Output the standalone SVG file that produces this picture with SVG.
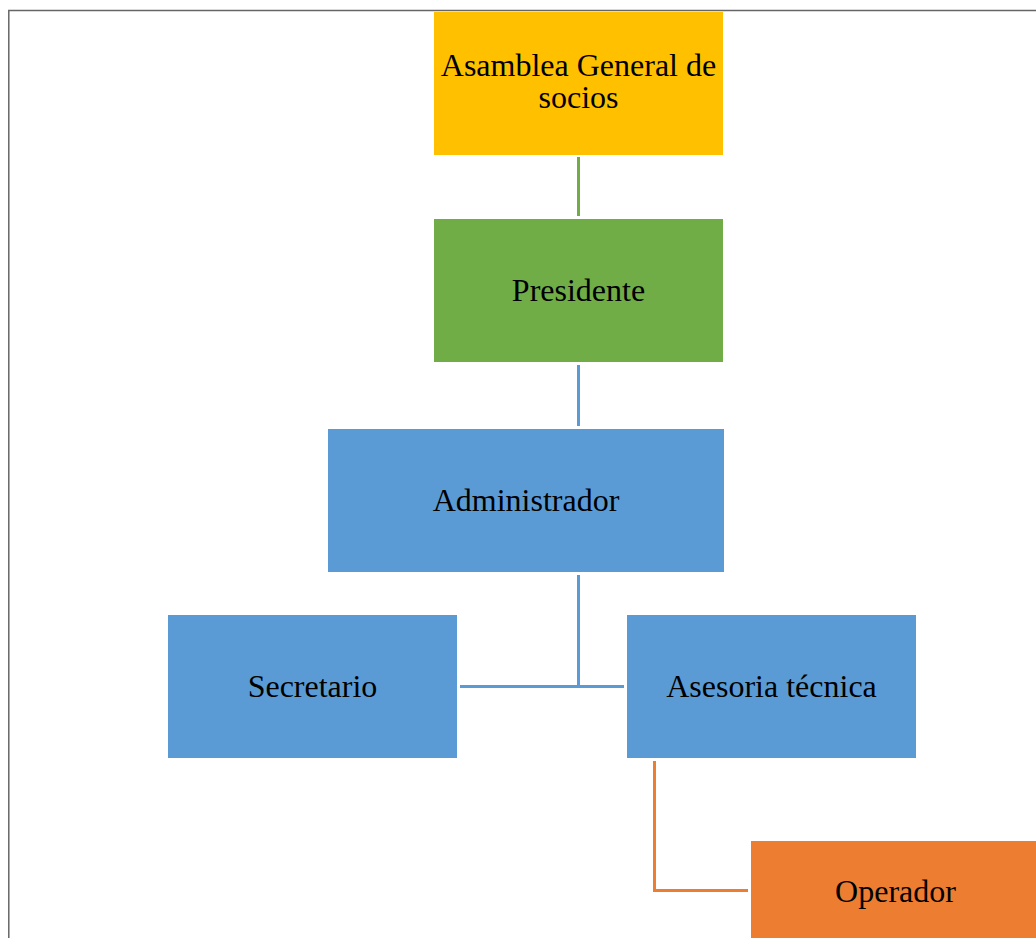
<svg xmlns="http://www.w3.org/2000/svg" width="1036" height="938" viewBox="0 0 1036 938">
<style>
.t{font-family:"Liberation Serif","Times New Roman",serif;font-size:32px;fill:#000;text-anchor:middle}
.c{fill:none;stroke-width:3}
</style>
<rect width="1036" height="938" fill="#fff"/>
<path d="M8.8 938 V10.5 H1036" fill="none" stroke="#666" stroke-width="1.5"/>
<g id="connectors">
<line class="c" x1="578.5" y1="157" x2="578.5" y2="216" stroke="#70AD47"/>
<line class="c" x1="578.5" y1="365" x2="578.5" y2="426" stroke="#5B9BD5"/>
<line class="c" x1="578.5" y1="575" x2="578.5" y2="687" stroke="#5B9BD5"/>
<line class="c" x1="460" y1="686.5" x2="624" y2="686.5" stroke="#5B9BD5"/>
<polyline class="c" points="654.5,761 654.5,890.5 748,890.5" stroke="#ED7D31"/>
</g>
<g id="asamblea">
<rect x="434" y="12" width="289" height="143" fill="#FFC000"/>
<text class="t" x="578.5" y="76">Asamblea General de<tspan x="578.5" y="108">socios</tspan></text>
</g>
<g id="presidente">
<rect x="434" y="219" width="289" height="143" fill="#70AD47"/>
<text class="t" x="578.5" y="301">Presidente</text>
</g>
<g id="administrador">
<rect x="328" y="429" width="396" height="143" fill="#5B9BD5"/>
<text class="t" x="526" y="511">Administrador</text>
</g>
<g id="secretario">
<rect x="168" y="615" width="289" height="143" fill="#5B9BD5"/>
<text class="t" x="312.5" y="697">Secretario</text>
</g>
<g id="asesoria">
<rect x="627" y="615" width="289" height="143" fill="#5B9BD5"/>
<text class="t" x="771.5" y="697">Asesoria técnica</text>
</g>
<g id="operador">
<rect x="751" y="841" width="290" height="100" fill="#ED7D31"/>
<text class="t" x="895.5" y="902">Operador</text>
</g>
</svg>
